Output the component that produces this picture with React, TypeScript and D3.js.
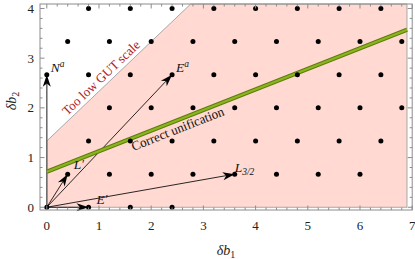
import React from "react";
import * as d3 from "d3";

// lattice points, one list of δb1 values per row (row height = 2/3 step)
const rowYs = [0, 2 / 3, 4 / 3, 2, 8 / 3, 10 / 3, 4];
const rowXs = [
  [0, 0.8, 1.6, 2.4],
  [0.4, 1.2, 2.0, 2.8, 3.6, 4.4, 5.2, 6.0],
  [0.8, 1.6, 2.4, 3.2, 4.0, 4.8, 5.6, 6.4],
  [1.2, 2.0, 2.8, 3.6, 4.4, 5.2, 6.0, 6.8],
  [0, 0.8, 1.6, 2.4, 3.2, 4.0, 4.8, 5.6, 6.4],
  [0.4, 1.2, 2.0, 2.8, 3.6, 4.4, 5.2, 6.0, 6.8],
  [0.8, 1.6, 2.4, 3.2, 4.0, 4.8, 5.6, 6.4],
];

// vectors drawn from the origin
const arrowNames = ["N", "E", "L", "E", "L"];
const arrowSup = ["a", "a", "′", "′", ""];
const arrowSub = ["", "", "", "", "3/2"];
const arrowX = [0, 2.4, 0.4, 0.8, 3.6];
const arrowY = [8 / 3, 8 / 3, 2 / 3, 0, 2 / 3];
const arrowGray = [true, false, false, false, false];

// allowed region: δb2 < δb1 + 4/3, δb1 < 6.9
const regionOffset = 4 / 3;
const regionRight = 6.9;

// correct unification line
const unifIntercept = 0.716;
const unifSlope = 0.414;

const xTicks = [0, 1, 2, 3, 4, 5, 6, 7];
const yTicks = [0, 1, 2, 3, 4];

const W = 415;
const H = 259;
const font = "'Liberation Serif', 'Times New Roman', serif";

export default function App() {
  const x = d3.scaleLinear().domain([-0.13, 7.0]).range([40, 412.2]);
  const y = d3.scaleLinear().domain([-0.055, 4.09]).range([210, 4]);
  const [xMin, xMax] = x.domain();
  const [yMin, yMax] = y.domain();

  const minorX = d3.range(0, 7.001, 0.2).filter((v) => Math.abs(v - Math.round(v)) > 0.01);
  const minorY = d3.range(0, 4.001, 0.2).filter((v) => Math.abs(v - Math.round(v)) > 0.01);

  const region = [
    [0, 0],
    [regionRight, 0],
    [regionRight, yMax],
    [yMax - regionOffset, yMax],
    [0, regionOffset],
  ];
  const line = d3
    .line<number[]>()
    .x((d) => x(d[0]))
    .y((d) => y(d[1]));

  const arrowHead = (x1: number, y1: number, x2: number, y2: number) => {
    const dx = x2 - x1;
    const dy = y2 - y1;
    const len = Math.sqrt(dx * dx + dy * dy);
    const ux = dx / len;
    const uy = dy / len;
    const L = 12;
    const w = 4;
    const bx = x2 - L * ux;
    const by = y2 - L * uy;
    const nx = x2 - 0.72 * L * ux;
    const ny = y2 - 0.72 * L * uy;
    return {
      d: `M${x2},${y2}L${bx - w * uy},${by + w * ux}L${nx},${ny}L${bx + w * uy},${by - w * ux}Z`,
      sx: nx,
      sy: ny,
    };
  };

  const ox = x(0);
  const oy = y(0);

  // label positions relative to vector tips (pixels)
  const labelDx = [4, 4, 6, 8, 0];
  const labelDy = [-3, -3, -5, -3, -2];

  const tooLowAngle = (Math.atan2(y(1) - y(0), x(1) - x(0)) * 180) / Math.PI;
  const unifAngle = (Math.atan2(y(unifSlope) - y(0), x(1) - x(0)) * 180) / Math.PI;

  return (
    <svg width={W} height={H} style={{ position: "absolute", left: 0, top: 0, background: "white" }}>
      {/* allowed region */}
      <path
        d={line(region as number[][]) + "Z"}
        fill="#ffd9d2"
        stroke="#a8a8a8"
        strokeWidth={1}
      />

      {/* thin lines + arrows */}
      {arrowX.map((ax, i) => {
        const tx = x(ax);
        const ty = y(arrowY[i]);
        const h = arrowHead(ox, oy, tx, ty);
        return (
          <g key={"a" + i}>
            <line
              x1={ox}
              y1={oy}
              x2={h.sx}
              y2={h.sy}
              stroke={arrowGray[i] ? "#6e6e6e" : "#111"}
              strokeWidth={arrowGray[i] ? 1.6 : 0.9}
            />
            <path d={h.d} fill="#000" />
          </g>
        );
      })}

      {/* unification line */}
      <line
        x1={x(0)}
        y1={y(unifIntercept)}
        x2={x(regionRight)}
        y2={y(unifIntercept + unifSlope * regionRight)}
        stroke="#5d7c0c"
        strokeWidth={4.2}
      />
      <line
        x1={x(0)}
        y1={y(unifIntercept)}
        x2={x(regionRight)}
        y2={y(unifIntercept + unifSlope * regionRight)}
        stroke="#8bb51e"
        strokeWidth={2.2}
      />

      {/* lattice points */}
      {rowXs.map((xs, r) =>
        xs.map((v) => <circle key={r + "-" + v} cx={x(v)} cy={y(rowYs[r])} r={2.5} fill="#000" />)
      )}

      {/* vector labels */}
      {arrowX.map((ax, i) => (
        <text
          key={"l" + i}
          x={x(ax) + labelDx[i]}
          y={y(arrowY[i]) + labelDy[i]}
          fontFamily={font}
          fontSize={13.5}
          fontStyle="italic"
          fill="#111"
        >
          {arrowNames[i]}
          {arrowSup[i] && (
            <tspan fontSize={arrowSup[i] === "′" ? 12 : 9.5} dy={arrowSup[i] === "′" ? -1 : -5}>
              {arrowSup[i]}
            </tspan>
          )}
          {arrowSub[i] && (
            <tspan fontSize={9.5} dy={3}>
              {arrowSub[i]}
            </tspan>
          )}
        </text>
      ))}

      {/* region labels */}
      <text
        transform={`translate(${x(1.15)},${y(1.15 + regionOffset)}) rotate(${tooLowAngle})`}
        dy={-4}
        textAnchor="middle"
        fontFamily={font}
        fontSize={13}
        fill="#b3172b"
      >
        Too low GUT scale
      </text>
      <text
        transform={`translate(${x(2.45)},${y(unifIntercept + unifSlope * 2.45)}) rotate(${unifAngle})`}
        dy={12.5}
        textAnchor="middle"
        fontFamily={font}
        fontSize={13}
        fill="#111"
      >
        Correct unification
      </text>

      {/* frame */}
      <rect
        x={x(xMin)}
        y={y(yMax)}
        width={x(xMax) - x(xMin)}
        height={y(yMin) - y(yMax)}
        fill="none"
        stroke="#8c8c8c"
        strokeWidth={1}
      />
      {xTicks.map((t) => (
        <g key={"xt" + t}>
          <line x1={x(t)} x2={x(t)} y1={y(yMin)} y2={y(yMin) - 4.5} stroke="#8c8c8c" />
          <line x1={x(t)} x2={x(t)} y1={y(yMax)} y2={y(yMax) + 4.5} stroke="#8c8c8c" />
          <text x={x(t)} y={230} textAnchor="middle" fontFamily={font} fontSize={13} fill="#222">
            {t}
          </text>
        </g>
      ))}
      {minorX.map((t) => (
        <g key={"xm" + t}>
          <line x1={x(t)} x2={x(t)} y1={y(yMin)} y2={y(yMin) - 2.5} stroke="#8c8c8c" />
          <line x1={x(t)} x2={x(t)} y1={y(yMax)} y2={y(yMax) + 2.5} stroke="#8c8c8c" />
        </g>
      ))}
      {yTicks.map((t) => (
        <g key={"yt" + t}>
          <line x1={x(xMin)} x2={x(xMin) + 4.5} y1={y(t)} y2={y(t)} stroke="#8c8c8c" />
          <line x1={x(xMax)} x2={x(xMax) - 4.5} y1={y(t)} y2={y(t)} stroke="#8c8c8c" />
          <text x={34} y={y(t) + 4.5} textAnchor="end" fontFamily={font} fontSize={13} fill="#222">
            {t}
          </text>
        </g>
      ))}
      {minorY.map((t) => (
        <g key={"ym" + t}>
          <line x1={x(xMin)} x2={x(xMin) + 2.5} y1={y(t)} y2={y(t)} stroke="#8c8c8c" />
          <line x1={x(xMax)} x2={x(xMax) - 2.5} y1={y(t)} y2={y(t)} stroke="#8c8c8c" />
        </g>
      ))}

      {/* axis titles */}
      <text x={226} y={255} textAnchor="middle" fontFamily={font} fontSize={14} fill="#222">
        <tspan fontStyle="italic">δb</tspan>
        <tspan fontSize={10} dy={3}>1</tspan>
      </text>
      <text
        transform={`translate(16,101) rotate(-90)`}
        textAnchor="middle"
        fontFamily={font}
        fontSize={14}
        fill="#222"
      >
        <tspan fontStyle="italic">δb</tspan>
        <tspan fontSize={10} dy={3}>2</tspan>
      </text>
    </svg>
  );
}
